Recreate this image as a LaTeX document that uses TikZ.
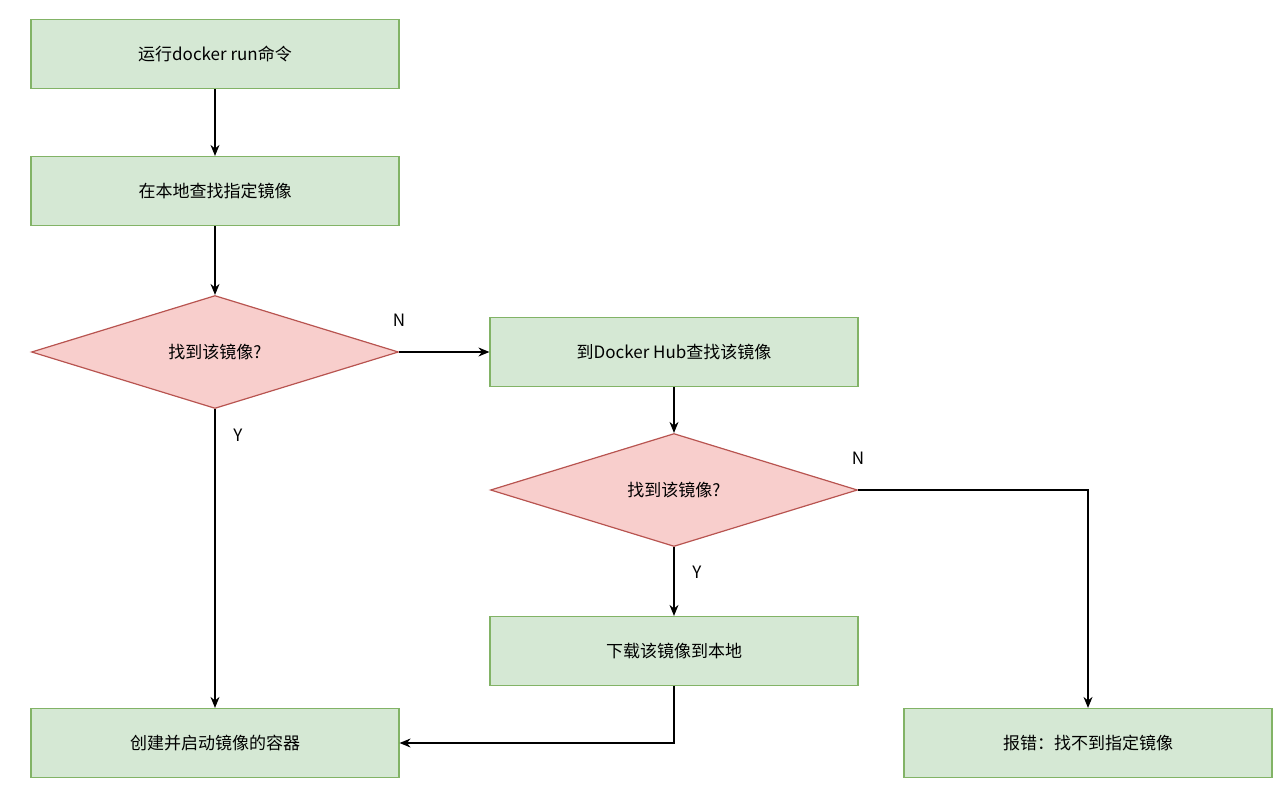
\documentclass[tikz,border=0pt]{standalone}
\usepackage{fontspec}
\setmainfont{Noto Sans CJK SC}
\usetikzlibrary{shapes.geometric,arrows.meta}
\definecolor{gf}{HTML}{D5E8D4}\definecolor{gs}{HTML}{82B366}
\definecolor{rf}{HTML}{F8CECC}\definecolor{rs}{HTML}{B85450}
\begin{document}
\begin{tikzpicture}[x=1pt,y=-1pt,
 box/.style={draw=gs,fill=gf,line width=1.2pt,minimum width=368pt,minimum height=69pt,inner sep=0pt,font=\fontsize{17}{20}\selectfont},
 dia/.style={diamond,draw=rs,fill=rf,line width=1.2pt,minimum width=367pt,minimum height=113pt,aspect=3.25,inner sep=0pt,font=\fontsize{17}{20}\selectfont},
 arr/.style={line width=1.2pt,-{Stealth[length=11pt,width=9pt]}},
 lab/.style={font=\fontsize{17}{20}\selectfont}]
\useasboundingbox (0,0) rectangle (1281,805);
\node[box] (a) at (215,54) {运行docker run命令};
\node[box] (b) at (215,191) {在本地查找指定镜像};
\node[dia] (d1) at (215,352) {找到该镜像?};
\node[box] (c) at (674,352) {到Docker Hub查找该镜像};
\node[dia] (d2) at (674,490) {找到该镜像?};
\node[box] (e) at (674,651) {下载该镜像到本地};
\node[box] (f) at (215,743) {创建并启动镜像的容器};
\node[box] (g) at (1088,743) {报错：找不到指定镜像};
\draw[arr] (a) -- (b);
\draw[arr] (b) -- (d1);
\draw[arr] (d1) -- (c);
\draw[arr] (d1) -- (f);
\draw[arr] (c) -- (d2);
\draw[arr] (d2) -- (e);
\draw[arr] (d2.east) -| (g.north);
\draw[arr] (e.south) |- (f.east);
\node[lab] (n1) at (399,320) {N};
\node[lab] (y1) at (238,435) {Y};
\node[lab] (n2) at (858,458) {N};
\node[lab] (y2) at (697,572) {Y};
\end{tikzpicture}
\end{document}
